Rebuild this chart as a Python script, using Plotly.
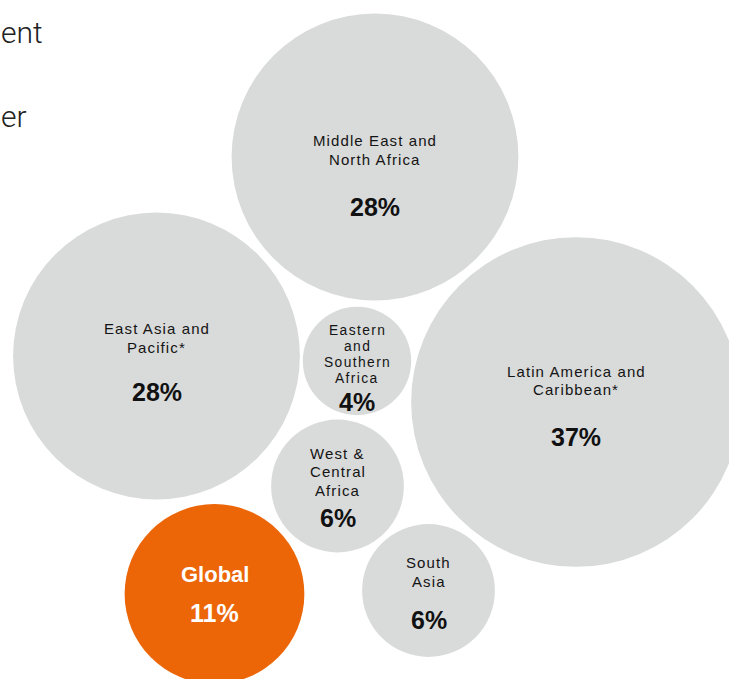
import math
import plotly.graph_objects as go

# ---- data ----
regions = [
    "Middle East and<br>North Africa",
    "East Asia and<br>Pacific*",
    "Latin America and<br>Caribbean*",
    "Eastern<br>and<br>Southern<br>Africa",
    "West &<br>Central<br>Africa",
    "South<br>Asia",
    "Global",
]
values = [28, 28, 37, 4, 6, 6, 11]
fragments = ["ent", "er"]  # cut-off text from the left column

# ---- layout (pixel positions of bubble centres, text offsets) ----
W, H = 729, 679
K = 27.1  # radius = K * sqrt(value)
cx = [375, 156.5, 576, 357, 337.5, 428.5, 214.5]
cy = [157, 356, 402, 361, 486, 590.5, 594]
first_off = [-17, -28, -31, -30.5, -33, -28.5, -20]
line_step = [19, 19, 18.5, 16, 18.5, 19, 19]
pct_off = [50, 36, 35, 41, 32, 29.5, 19]
label_size = [15, 15, 15, 13.8, 15, 15, 15]
label_spacing = [1.1, 1.1, 1.1, 1.4, 1.1, 1.1, 1.1]
GREY = "#d9dada"
ORANGE = "#ec6608"
TXT = "#141414"

fig = go.Figure()
shapes = []
annotations = []
for i, (name, v) in enumerate(zip(regions, values)):
    r = K * math.sqrt(v)
    is_global = name == "Global"
    col = ORANGE if is_global else GREY
    shapes.append(dict(type="circle", xref="x", yref="y",
                       x0=cx[i] - r, x1=cx[i] + r, y0=cy[i] - r, y1=cy[i] + r,
                       fillcolor=col, line=dict(width=0), layer="below"))
    if is_global:
        annotations.append(dict(x=cx[i], y=cy[i] + first_off[i], text="<b>" + name + "</b>",
                                showarrow=False, xanchor="center", yanchor="middle",
                                font=dict(family="Liberation Sans", size=22, color="white")))
        annotations.append(dict(x=cx[i], y=cy[i] + pct_off[i], text="<b>%d%%</b>" % v,
                                showarrow=False, xanchor="center", yanchor="middle",
                                font=dict(family="Liberation Sans", size=25, color="white")))
        continue
    for j, line in enumerate(name.split("<br>")):
        annotations.append(dict(x=cx[i], y=cy[i] + first_off[i] + j * line_step[i],
                                text='<span style="letter-spacing:%.1fpx">%s</span>' % (label_spacing[i], line),
                                showarrow=False, xanchor="center", yanchor="middle",
                                borderpad=0,
                                font=dict(family="Liberation Sans", size=label_size[i], color=TXT)))
    annotations.append(dict(x=cx[i], y=cy[i] + pct_off[i], text="<b>%d%%</b>" % v,
                            showarrow=False, xanchor="center", yanchor="middle",
                            font=dict(family="Liberation Sans", size=25, color="#111111")))

frag_x = [0, 0]
frag_y = [32, 116]
for t, x, y in zip(fragments, frag_x, frag_y):
    annotations.append(dict(x=x, y=y, text=t, showarrow=False, xanchor="left", yanchor="middle",
                            borderpad=0,
                            font=dict(family="Roboto", size=30, color="#222222", weight=300)))

fig.update_layout(
    width=W, height=H, margin=dict(l=0, r=0, t=0, b=0),
    paper_bgcolor="white", plot_bgcolor="white",
    shapes=shapes, annotations=annotations, showlegend=False,
    xaxis=dict(range=[0, W], visible=False, fixedrange=True),
    yaxis=dict(range=[H, 0], visible=False, fixedrange=True),
)
fig.write_html("out.html", config={"displayModeBar": False},
               post_script="document.body.style.margin='0';")
